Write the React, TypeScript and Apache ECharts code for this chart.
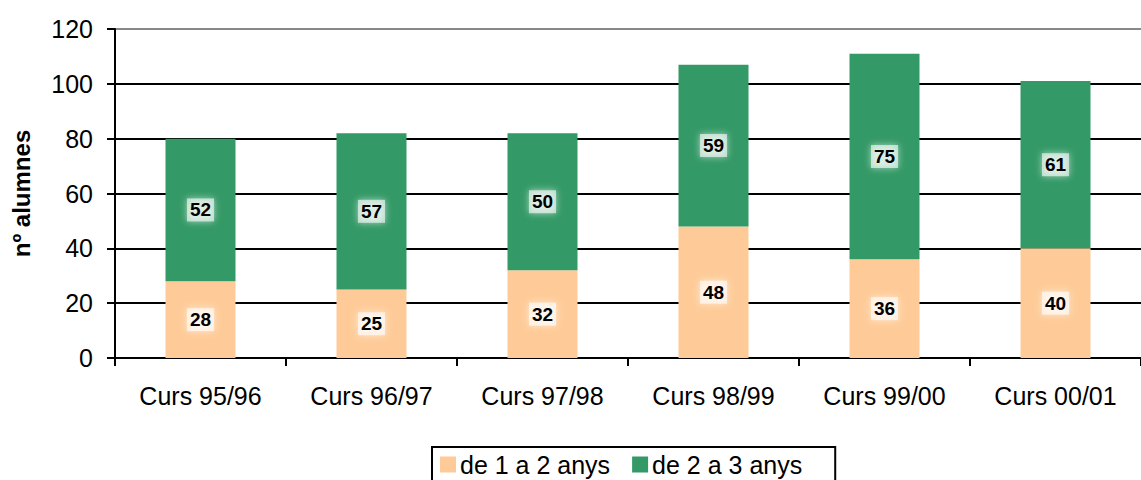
import React, { useEffect, useRef } from "react";
import * as echarts from "echarts";

const categories = ["Curs 95/96", "Curs 96/97", "Curs 97/98", "Curs 98/99", "Curs 99/00", "Curs 00/01"];
const seriesA = [28, 25, 32, 48, 36, 40];
const seriesB = [52, 57, 50, 59, 75, 61];
const seriesNames = ["de 1 a 2 anys", "de 2 a 3 anys"];
const colors = ["#FECB98", "#339966"];
const FONT = "'Liberation Sans', Arial, Helvetica, sans-serif";

export default function App() {
  const ref = useRef<HTMLDivElement>(null);
  useEffect(() => {
    if (!ref.current) return;
    const chart = echarts.init(ref.current, undefined, { renderer: "svg" });
    const label = {
      show: true,
      position: "inside",
      color: "#000",
      fontFamily: FONT,
      fontWeight: "bold",
      fontSize: 19,
      backgroundColor: "rgba(255,255,255,0.6)",
      padding: [3, 3, 1, 3],
      shadowColor: "rgba(255,255,255,0.95)",
      shadowBlur: 7,
    };
    chart.setOption({
      animation: false,
      textStyle: { fontFamily: FONT },
      grid: { left: 115, right: 0, top: 29, bottom: 122, containLabel: false },
      legend: {
        left: 432,
        top: 447,
        width: 403,
        itemWidth: 16,
        itemHeight: 16,
        itemGap: 22,
        borderColor: "#000",
        borderWidth: 2,
        padding: [5, 33, 5, 8],
        icon: "rect",
        textStyle: { fontFamily: FONT, fontSize: 25, color: "#000", padding: [0, 0, 0, -1] },
        data: seriesNames,
      },
      xAxis: {
        type: "category",
        data: categories,
        axisLine: { lineStyle: { color: "#000", width: 2 } },
        axisTick: { show: true, length: 8, lineStyle: { color: "#000", width: 2 } },
        axisLabel: { fontFamily: FONT, fontSize: 25, color: "#000", margin: 25 },
      },
      yAxis: {
        type: "value",
        min: 0,
        max: 120,
        interval: 20,
        name: "nº alumnes",
        nameLocation: "middle",
        nameRotate: 90,
        nameGap: 82,
        nameTextStyle: { fontFamily: FONT, fontSize: 24, fontWeight: "bold", color: "#000" },
        axisLine: { show: true, lineStyle: { color: "#000", width: 2 } },
        axisTick: { show: true, length: 8, lineStyle: { color: "#000", width: 2 } },
        axisLabel: { fontFamily: FONT, fontSize: 25, color: "#000", margin: 22 },
        splitLine: {
          show: true,
          lineStyle: { color: ["#000", "#000", "#000", "#000", "#000", "#000", "#888"], width: 2 },
        },
      },
      series: [
        {
          name: seriesNames[0],
          type: "bar",
          stack: "total",
          data: seriesA,
          barWidth: 70,
          itemStyle: { color: colors[0] },
          label,
        },
        {
          name: seriesNames[1],
          type: "bar",
          stack: "total",
          data: seriesB,
          barWidth: 70,
          itemStyle: { color: colors[1] },
          label,
        },
      ],
    });
    return () => chart.dispose();
  }, []);
  return (
    <div
      ref={ref}
      style={{ position: "fixed", left: 0, top: 0, width: 1141, height: 480, background: "#fff" }}
    />
  );
}
